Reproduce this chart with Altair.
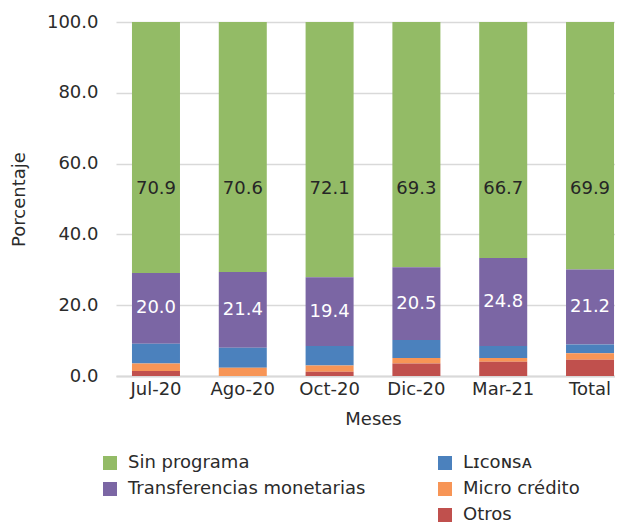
import altair as alt
import pandas as pd

meses = ["Jul-20", "Ago-20", "Oct-20", "Dic-20", "Mar-21", "Total"]
sin_programa = [70.9, 70.6, 72.1, 69.3, 66.7, 69.9]
transferencias = [20.0, 21.4, 19.4, 20.5, 24.8, 21.2]
liconsa = [5.6, 5.7, 5.5, 5.1, 3.4, 2.5]
micro_credito = [2.1, 2.3, 1.8, 1.6, 1.1, 1.8]
otros = [1.4, 0.0, 1.2, 3.5, 4.0, 4.6]

series = ["Sin programa", "Transferencias monetarias", "Lɪᴄᴏɴꜱᴀ", "Micro crédito", "Otros"]
colores = ["#93BB66", "#7B66A4", "#4B81BD", "#F79556", "#C0504D"]
valores = [sin_programa, transferencias, liconsa, micro_credito, otros]
orden_pila = [4, 3, 2, 1, 0]

rows = []
for s, vals, o in zip(series, valores, orden_pila):
    for m, v in zip(meses, vals):
        rows.append({"mes": m, "grupo": s, "valor": v, "orden": o})
df = pd.DataFrame(rows)

FONT = "DejaVu Sans"
TXT = "#2b2b2b"
GREEN_LABEL_Y = 52.8

base = alt.Chart(df).transform_stack(
    stack="valor", groupby=["mes"], as_=["y0", "y1"],
    sort=[alt.SortField("orden", order="ascending")]
)

x_enc = alt.X(
    "mes:N", sort=meses, title="Meses",
    scale=alt.Scale(range=[0, 514], paddingInner=0.447, paddingOuter=0.184),
    axis=alt.Axis(labelAngle=0, ticks=False, domainColor="#D9D9D9", domainWidth=2,
                  labelPadding=4, titlePadding=12, labelFontSize=18, titleFontSize=18,
                  titleFontWeight="normal", labelColor=TXT, titleColor=TXT,
                  labelFont=FONT, titleFont=FONT),
)
y_enc = alt.Y(
    "y0:Q", title="Porcentaje",
    scale=alt.Scale(domain=[0, 100], nice=False),
    axis=alt.Axis(values=[0, 20, 40, 60, 80, 100], format=".1f", grid=True,
                  gridColor="#D9D9D9", gridWidth=1.5, domain=False, ticks=False,
                  labelPadding=18, titlePadding=18, labelFontSize=18, titleFontSize=18,
                  titleFontWeight="normal", labelColor=TXT, titleColor=TXT,
                  labelFont=FONT, titleFont=FONT),
)

def legend(lx, ly):
    return alt.Legend(orient="none", legendX=lx, legendY=ly, direction="vertical",
                      title=None, symbolType="square", symbolSize=196,
                      symbolStrokeWidth=0, labelFontSize=18, labelFont=FONT,
                      labelColor=TXT, labelOffset=9, rowPadding=8, padding=0,
                      labelLimit=400)

grupo_a = series[:2]
grupo_b = series[2:]

bars_a = base.transform_filter(
    alt.FieldOneOfPredicate(field="grupo", oneOf=grupo_a)
).mark_bar().encode(
    x=x_enc, y=y_enc, y2="y1:Q",
    color=alt.Color("grupo:N", scale=alt.Scale(domain=grupo_a, range=colores[:2]),
                    legend=legend(-15, 432)),
)

bars_b = base.transform_filter(
    alt.FieldOneOfPredicate(field="grupo", oneOf=grupo_b)
).mark_bar().encode(
    x=x_enc, y=y_enc, y2="y1:Q",
    color=alt.Color("grupo:N", scale=alt.Scale(domain=grupo_b, range=colores[2:]),
                    legend=legend(320, 432)),
)

lab_purple = base.transform_filter(
    alt.datum.grupo == "Transferencias monetarias"
).transform_calculate(
    mid="(datum.y0 + datum.y1) / 2"
).mark_text(color="white", fontSize=18, font=FONT).encode(
    x=alt.X("mes:N", sort=meses),
    y=alt.Y("mid:Q"),
    text=alt.Text("valor:Q", format=".1f"),
)

lab_green = base.transform_filter(
    alt.datum.grupo == "Sin programa"
).transform_calculate(
    pos=str(GREEN_LABEL_Y)
).mark_text(color="#262626", fontSize=18, font=FONT).encode(
    x=alt.X("mes:N", sort=meses),
    y=alt.Y("pos:Q"),
    text=alt.Text("valor:Q", format=".1f"),
)

chart = alt.layer(bars_a, bars_b, lab_purple, lab_green).resolve_scale(
    color="independent"
).properties(
    width=499, height=354,
    autosize=alt.AutoSizeParams(type="none"),
    padding={"left": 108, "top": 14, "right": 0, "bottom": 147},
).configure_view(stroke=None)

chart.save("out.html", embed_options={"renderer": "svg", "actions": False})
